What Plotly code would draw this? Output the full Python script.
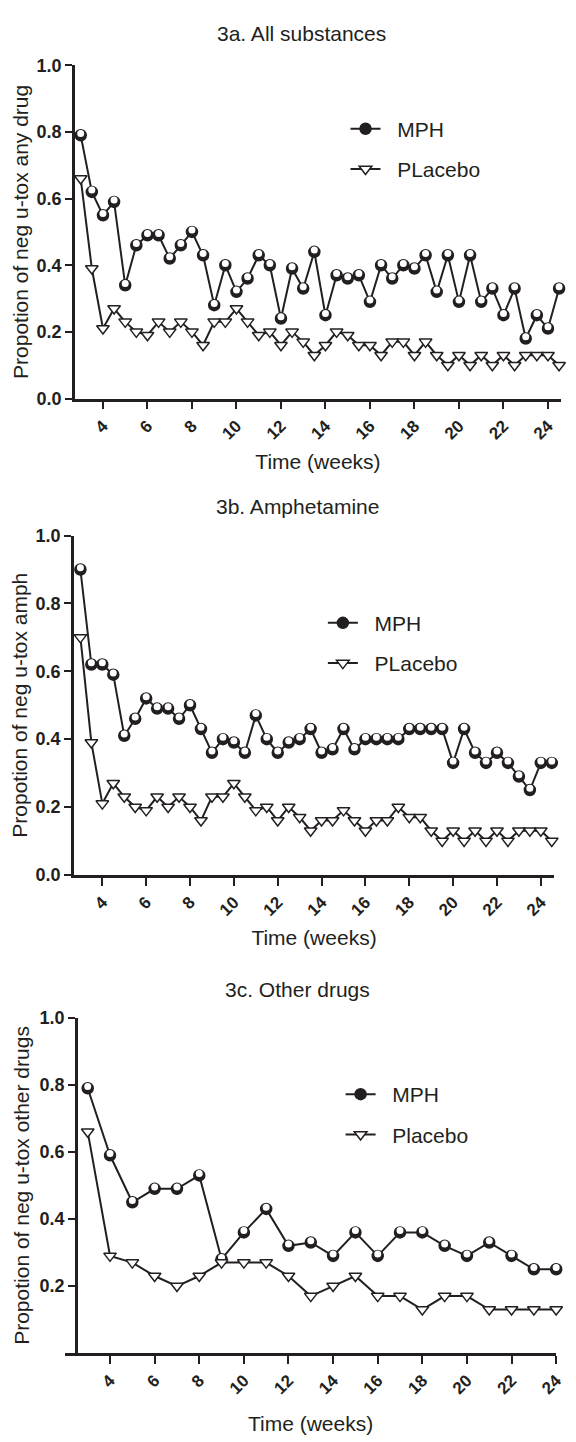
import plotly.graph_objects as go

W, H = 576, 1442
INK = "#231f20"
FONT = "Liberation Sans, Arial, sans-serif"

# ---------------- data ----------------
weeks_half = [3, 3.5, 4, 4.5, 5, 5.5, 6, 6.5, 7, 7.5, 8, 8.5, 9, 9.5, 10, 10.5,
              11, 11.5, 12, 12.5, 13, 13.5, 14, 14.5, 15, 15.5, 16, 16.5, 17, 17.5,
              18, 18.5, 19, 19.5, 20, 20.5, 21, 21.5, 22, 22.5, 23, 23.5, 24, 24.5]
weeks_full = [3, 4, 5, 6, 7, 8, 9, 10, 11, 12, 13, 14, 15, 16, 17, 18, 19, 20,
              21, 22, 23, 24]

a_mph = [0.79, 0.62, 0.55, 0.59, 0.34, 0.46, 0.49, 0.49, 0.42, 0.46, 0.50, 0.43,
         0.28, 0.40, 0.32, 0.36, 0.43, 0.40, 0.24, 0.39, 0.33, 0.44, 0.25, 0.37,
         0.36, 0.37, 0.29, 0.40, 0.36, 0.40, 0.39, 0.43, 0.32, 0.43, 0.29, 0.43,
         0.29, 0.33, 0.25, 0.33, 0.18, 0.25, 0.21, 0.33]
a_placebo = [0.66, 0.39, 0.21, 0.27, 0.23, 0.20, 0.19, 0.23, 0.20, 0.23, 0.20, 0.16,
             0.23, 0.23, 0.27, 0.23, 0.19, 0.20, 0.16, 0.20, 0.17, 0.13, 0.16, 0.20,
             0.19, 0.16, 0.16, 0.13, 0.17, 0.17, 0.13, 0.17, 0.13, 0.10, 0.13, 0.10,
             0.13, 0.10, 0.13, 0.10, 0.13, 0.13, 0.13, 0.10]

b_mph = [0.90, 0.62, 0.62, 0.59, 0.41, 0.46, 0.52, 0.49, 0.49, 0.46, 0.50, 0.43,
         0.36, 0.40, 0.39, 0.36, 0.47, 0.40, 0.36, 0.39, 0.40, 0.43, 0.36, 0.37,
         0.43, 0.37, 0.40, 0.40, 0.40, 0.40, 0.43, 0.43, 0.43, 0.43, 0.33, 0.43,
         0.36, 0.33, 0.36, 0.33, 0.29, 0.25, 0.33, 0.33]
b_placebo = [0.70, 0.39, 0.21, 0.27, 0.23, 0.20, 0.19, 0.23, 0.20, 0.23, 0.20, 0.16,
             0.23, 0.23, 0.27, 0.23, 0.19, 0.20, 0.16, 0.20, 0.17, 0.13, 0.16, 0.16,
             0.19, 0.16, 0.13, 0.16, 0.16, 0.20, 0.17, 0.17, 0.13, 0.10, 0.13, 0.10,
             0.13, 0.10, 0.13, 0.10, 0.13, 0.13, 0.13, 0.10]

c_mph = [0.79, 0.59, 0.45, 0.49, 0.49, 0.53, 0.28, 0.36, 0.43, 0.32, 0.33, 0.29,
         0.36, 0.29, 0.36, 0.36, 0.32, 0.29, 0.33, 0.29, 0.25, 0.25]
c_placebo = [0.66, 0.29, 0.27, 0.23, 0.20, 0.23, 0.27, 0.27, 0.27, 0.23, 0.17, 0.20,
             0.23, 0.17, 0.17, 0.13, 0.17, 0.17, 0.13, 0.13, 0.13, 0.13]

panel_titles = ["3a. All substances", "3b. Amphetamine", "3c. Other drugs"]
y_titles = ["Propotion of neg u-tox any drug", "Propotion of neg u-tox amph",
            "Propotion of neg u-tox other drugs"]
x_title = "Time (weeks)"
series_names = [("MPH", "PLacebo"), ("MPH", "PLacebo"), ("MPH", "Placebo")]
x_ticks = [4, 6, 8, 10, 12, 14, 16, 18, 20, 22, 24]
y_ticks_full = [0.0, 0.2, 0.4, 0.6, 0.8, 1.0]
y_ticks_c = [0.2, 0.4, 0.6, 0.8, 1.0]


def fx(p):
    return p / W


def fy(p):
    return 1 - p / H


# layout geometry (pixels)
panels = [
    dict(x=weeks_half, mph=a_mph, pla=a_placebo,
         xdom=(76, 570), xrange=(2.735, 24.59), ydom=(56, 394), ypos=None,
         yticks=y_ticks_full, title_xy=(306, 24), leg=(351, 100), xstand=12),
    dict(x=weeks_half, mph=b_mph, pla=b_placebo,
         xdom=(75, 563), xrange=(2.70, 24.61), ydom=(533, 877), ypos=None,
         yticks=y_ticks_full, title_xy=(302, 503), leg=(328, 601), xstand=12),
    dict(x=weeks_full, mph=c_mph, pla=c_placebo,
         xdom=(66, 565), xrange=(1.98, 24.0), ydom=(1022, 1362), ypos=77,
         yticks=y_ticks_c, title_xy=(302, 993), leg=(346, 1079), xstand=20),
]

fig = go.Figure()
layout = dict(
    width=W, height=H,
    margin=dict(l=0, r=0, t=0, b=0),
    paper_bgcolor="white", plot_bgcolor="white",
    font=dict(family=FONT, color=INK),
    annotations=[],
)

for i, p in enumerate(panels):
    n = i + 1
    sfx = "" if n == 1 else str(n)
    xa, ya = "x" + sfx, "y" + sfx
    leg = "legend" + sfx
    m_name, p_name = series_names[i]

    # MPH: line + dark circle
    fig.add_trace(go.Scatter(
        x=p["x"], y=p["mph"], name="\u00a0\u00a0" + m_name, mode="lines+markers",
        xaxis=xa, yaxis=ya, legend=leg, legendgroup=f"m{n}", cliponaxis=False,
        line=dict(color=INK, width=2),
        marker=dict(symbol="circle", size=11, color=INK,
                    line=dict(color=INK, width=1.5)),
    ))
    # MPH: white lower half of the half-filled circle
    fig.add_trace(go.Scatter(
        x=p["x"], y=p["mph"], mode="markers", showlegend=False, hoverinfo="skip",
        xaxis=xa, yaxis=ya, legend=leg, legendgroup=f"m{n}", cliponaxis=False,
        marker=dict(symbol="circle", size=7, color="white", angle=180, standoff=1.8,
                    line=dict(width=0)),
    ))
    fig.add_trace(go.Scatter(
        x=p["x"], y=p["pla"], name="\u00a0\u00a0" + p_name, mode="lines+markers",
        xaxis=xa, yaxis=ya, legend=leg, legendgroup=f"p{n}", cliponaxis=False,
        line=dict(color=INK, width=2),
        marker=dict(symbol="triangle-down", size=11, color="white",
                    line=dict(color=INK, width=1.5)),
    ))

    layout["xaxis" + sfx] = dict(
        domain=[fx(p["xdom"][0]), fx(p["xdom"][1])], range=list(p["xrange"]),
        anchor=ya, tickmode="array", tickvals=x_ticks,
        ticks="outside", ticklen=8, tickwidth=2, tickcolor=INK,
        showline=True, linewidth=2.5, linecolor=INK,
        showgrid=False, zeroline=False, tickangle=-45,
        tickfont=dict(family=FONT, size=17, color=INK, weight="bold"),
        title=dict(text=x_title, font=dict(family=FONT, size=21, color=INK),
                   standoff=p["xstand"]),
    )
    ydict = dict(
        domain=[fy(p["ydom"][1]), fy(p["ydom"][0])], range=[0, 1.0],
        tickmode="array", tickvals=p["yticks"],
        ticktext=[f"{v:.1f}" for v in p["yticks"]],
        ticks="outside", ticklen=7, tickwidth=2, tickcolor=INK,
        showline=True, linewidth=2.5, linecolor=INK,
        showgrid=False, zeroline=False,
        tickfont=dict(family=FONT, size=18, color=INK, weight="bold"),
        title=dict(text=y_titles[i], font=dict(family=FONT, size=21, color=INK),
                   standoff=3),
    )
    if p["ypos"] is None:
        ydict["anchor"] = xa
    else:
        ydict["anchor"] = "free"
        ydict["position"] = fx(p["ypos"])
    layout["yaxis" + sfx] = ydict

    layout[leg] = dict(
        x=fx(p["leg"][0]), y=fy(p["leg"][1]), xanchor="left", yanchor="top",
        bgcolor="rgba(0,0,0,0)", borderwidth=0, tracegroupgap=10,
        font=dict(family=FONT, size=21, color=INK),
    )

    layout["annotations"].append(dict(
        text=panel_titles[i], x=fx(p["title_xy"][0]), y=fy(p["title_xy"][1]),
        xref="paper", yref="paper", xanchor="center", yanchor="middle",
        showarrow=False, font=dict(family=FONT, size=21, color=INK),
    ))

fig.update_layout(**layout)
fig.write_html("out.html",
               config={"displayModeBar": False},
               post_script="document.body.style.margin='0px';"
                           "document.body.style.padding='0px';")
